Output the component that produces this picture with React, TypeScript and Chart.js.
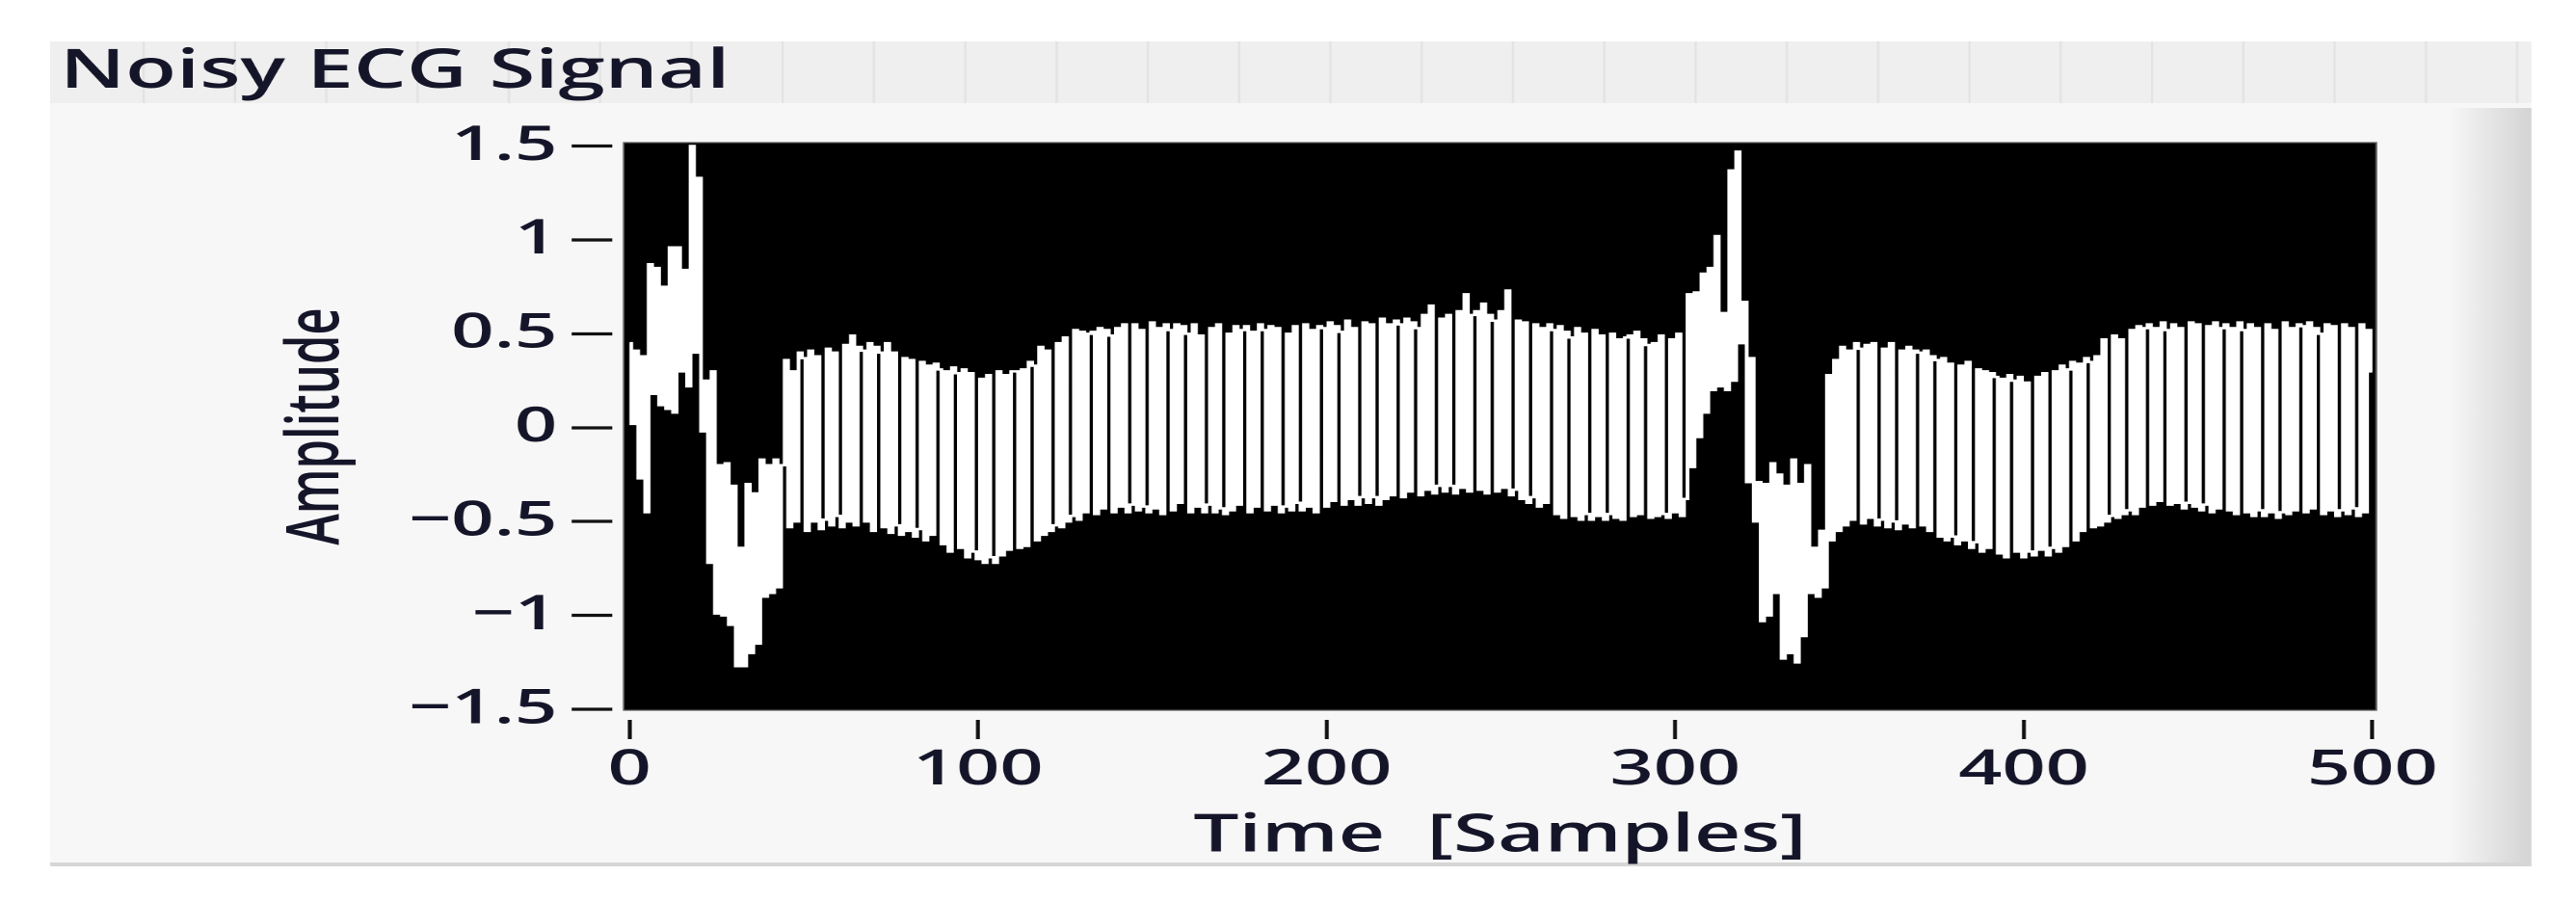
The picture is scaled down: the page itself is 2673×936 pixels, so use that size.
import React, { useEffect, useRef } from "react";
import { Chart, registerables } from "chart.js";

Chart.register(...registerables);

// ---------- data ----------
const chartTitle = "Noisy ECG Signal";
const xAxisTitle = "Time  [Samples]";
const yAxisTitle = "Amplitude";
const xTicks = [0, 100, 200, 300, 400, 500];
const yTicks = [-1.5, -1, -0.5, 0, 0.5, 1, 1.5];
const yTickLabels = ["\u22121.5", "\u22121", "\u22120.5", "0", "0.5", "1", "1.5"];

// amplitude at sample index 0..500
const amplitude = [
  0.45, 0.02, 0.41, -0.27, 0.38, -0.45, 0.87, 0.18, 0.85, 0.12,
  0.75, 0.10, 0.96, 0.08, 0.96, 0.30, 0.84, 0.22, 1.50, 0.40,
  1.33, -0.02, 0.25, -0.72, 0.30, -0.99, -0.20, -1.00, -0.19, -1.05,
  -0.31, -1.27, -0.64, -1.27, -0.30, -1.20, -0.35, -1.15, -0.17, -0.90,
  -0.20, -0.88, -0.17, -0.85, -0.20, 0.36, -0.53, 0.30, -0.50, 0.40,
  0.37, -0.55, 0.41, -0.50, 0.38, -0.54, -0.49, 0.42, -0.52, 0.40,
  -0.47, -0.53, 0.44, -0.50, 0.49, -0.52, 0.43, 0.41, -0.50, 0.45,
  -0.55, 0.43, 0.40, -0.53, 0.45, -0.56, 0.40, -0.52, -0.57, 0.37,
  -0.55, 0.36, -0.58, -0.54, 0.35, -0.60, 0.33, -0.57, 0.34, 0.31,
  -0.62, 0.30, -0.66, 0.32, 0.29, -0.64, 0.31, -0.69, 0.29, -0.66,
  -0.70, 0.26, -0.72, 0.28, -0.69, -0.72, 0.30, -0.68, 0.28, -0.65,
  0.30, 0.30, -0.64, 0.31, -0.63, 0.35, 0.33, -0.60, 0.43, -0.57,
  0.41, -0.55, -0.52, 0.45, -0.53, 0.48, -0.50, -0.47, 0.52, -0.49,
  0.51, -0.45, 0.50, 0.51, -0.46, 0.53, -0.43, 0.52, 0.49, -0.45,
  0.53, -0.42, 0.55, -0.45, -0.41, 0.55, -0.44, 0.52, -0.42, -0.45,
  0.56, -0.43, 0.53, -0.46, 0.55, 0.52, -0.44, 0.55, -0.40, 0.54,
  0.50, -0.45, 0.55, -0.42, 0.49, -0.45, -0.41, 0.53, -0.45, 0.55,
  -0.43, -0.46, 0.50, -0.44, 0.54, -0.41, 0.52, 0.54, -0.45, 0.51,
  -0.42, 0.55, 0.52, -0.44, 0.54, -0.41, 0.53, -0.45, -0.42, 0.50,
  -0.44, 0.54, -0.40, -0.44, 0.55, -0.42, 0.52, -0.45, 0.54, 0.53,
  -0.42, 0.56, -0.39, 0.54, 0.51, -0.41, 0.57, -0.38, 0.53, -0.41,
  -0.37, 0.56, -0.40, 0.55, -0.37, -0.41, 0.58, -0.38, 0.55, -0.36,
  0.57, 0.55, -0.37, 0.58, -0.34, 0.56, 0.53, -0.36, 0.60, -0.33,
  0.65, -0.35, -0.31, 0.58, -0.34, 0.60, -0.31, -0.35, 0.62, -0.32,
  0.71, -0.34, 0.60, 0.62, -0.33, 0.66, -0.35, 0.60, 0.57, -0.34,
  0.62, -0.32, 0.73, -0.36, -0.33, 0.57, -0.38, 0.56, -0.40, -0.37,
  0.55, -0.42, 0.53, -0.40, 0.55, 0.52, -0.46, 0.54, -0.48, 0.51,
  0.48, -0.47, 0.53, -0.49, 0.50, -0.46, -0.49, 0.52, -0.47, 0.49,
  -0.49, -0.46, 0.50, -0.48, 0.47, -0.49, 0.48, 0.49, -0.47, 0.51,
  -0.46, 0.47, 0.44, -0.48, 0.45, -0.47, 0.49, -0.46, -0.48, 0.47,
  -0.45, 0.50, -0.47, -0.38, 0.71, -0.21, 0.72, -0.05, 0.82, 0.08,
  0.85, 0.20, 1.02, 0.22, 0.61, 0.20, 1.37, 0.25, 1.47, 0.45,
  0.67, -0.29, 0.37, -0.50, -0.29, -1.03, -0.30, -1.00, -0.19, -0.88,
  -0.25, -1.23, -0.31, -1.20, -0.17, -1.25, -0.30, -1.11, -0.20, -0.88,
  -0.64, -0.90, -0.55, -0.85, 0.28, -0.60, 0.36, -0.55, 0.43, -0.52,
  0.41, -0.49, 0.45, 0.42, -0.51, 0.44, -0.48, 0.45, -0.52, -0.49,
  0.42, -0.53, 0.45, -0.50, -0.54, 0.41, -0.51, 0.43, -0.53, 0.41,
  0.40, -0.52, 0.41, -0.55, 0.38, 0.36, -0.58, 0.37, -0.60, 0.34,
  -0.58, -0.62, 0.33, -0.60, 0.35, -0.64, -0.61, 0.31, -0.66, 0.30,
  -0.64, 0.29, 0.27, -0.67, 0.26, -0.69, 0.28, 0.25, -0.66, 0.27,
  -0.69, 0.24, -0.66, -0.68, 0.27, -0.65, 0.29, -0.68, -0.64, 0.30,
  -0.66, 0.33, -0.63, 0.31, 0.35, -0.60, 0.34, -0.55, 0.37, 0.35,
  -0.53, 0.38, -0.52, 0.47, -0.50, -0.47, 0.49, -0.48, 0.47, -0.46,
  -0.44, 0.52, -0.46, 0.54, -0.42, 0.53, 0.55, -0.41, 0.53, -0.39,
  0.56, 0.52, -0.41, 0.55, -0.40, 0.53, -0.43, -0.40, 0.56, -0.42,
  0.55, -0.44, -0.41, 0.54, -0.45, 0.56, -0.43, 0.53, 0.55, -0.44,
  0.53, -0.46, 0.56, 0.52, -0.45, 0.55, -0.47, 0.53, -0.44, -0.47,
  0.55, -0.45, 0.52, -0.48, -0.45, 0.56, -0.46, 0.53, -0.44, 0.55,
  0.54, -0.45, 0.56, -0.43, 0.53, 0.50, -0.46, 0.55, -0.44, 0.54,
  -0.47, -0.44, 0.55, -0.46, 0.53, -0.43, -0.47, 0.55, -0.45, 0.52,
  0.30,
];

// ---------- layout (picture pixels) ----------
const W = 2673;
const H = 936;
const K = 1.55; // the picture is stretched horizontally
const W0 = W / K;
const sx = (x: number) => x / K;

const PLOT_LEFT = 647;
const PLOT_RIGHT = 2465;
const PLOT_TOP = 148;
const PLOT_BOTTOM = 737;

const FONT = '"Open Sans", "Noto Sans", sans-serif';
const TEXT_COLOR = "#15152a";
const WEIGHT = "600";

const panelPlugin = {
  id: "panelPlugin",
  beforeDraw(chart: any) {
    const ctx = chart.ctx as CanvasRenderingContext2D;
    ctx.save();
    ctx.fillStyle = "#ffffff";
    ctx.fillRect(0, 0, W0, H);
    // panel body
    ctx.fillStyle = "#f7f7f7";
    ctx.fillRect(sx(52), 107, sx(2626) - sx(52), 898 - 107);
    // right shading
    const g = ctx.createLinearGradient(sx(2540), 0, sx(2626), 0);
    g.addColorStop(0, "rgba(247,247,247,1)");
    g.addColorStop(1, "rgba(212,212,212,1)");
    ctx.fillStyle = g;
    ctx.fillRect(sx(2540), 112, sx(2626) - sx(2540), 898 - 112);
    // bottom edge
    ctx.fillStyle = "#d6d6d6";
    ctx.fillRect(sx(52), 895, sx(2626) - sx(52), 4);
    // header bar
    ctx.fillStyle = "#efefef";
    ctx.fillRect(sx(52), 43, sx(2626) - sx(52), 64);
    ctx.strokeStyle = "#e3e3e3";
    ctx.lineWidth = 1.5;
    for (let x = 149; x < 2626; x += 94.7) {
      ctx.beginPath();
      ctx.moveTo(sx(x), 43);
      ctx.lineTo(sx(x), 107);
      ctx.stroke();
    }
    // title
    ctx.fillStyle = TEXT_COLOR;
    ctx.font = `${WEIGHT} 56px ${FONT}`;
    ctx.textBaseline = "alphabetic";
    ctx.textAlign = "left";
    ctx.fillText(chartTitle, sx(62), 91);
    // plot background
    const a = chart.chartArea;
    ctx.fillStyle = "#000000";
    ctx.fillRect(a.left, a.top, a.right - a.left, a.bottom - a.top);
    ctx.restore();
  },
  afterDraw(chart: any) {
    const ctx = chart.ctx as CanvasRenderingContext2D;
    const a = chart.chartArea;
    ctx.save();
    ctx.strokeStyle = "#5a5a5a";
    ctx.lineWidth = 1.2;
    ctx.strokeRect(a.left, a.top, a.right - a.left, a.bottom - a.top);
    ctx.restore();
  },
};

export default function App() {
  const ref = useRef<HTMLCanvasElement>(null);

  useEffect(() => {
    const canvas = ref.current;
    if (!canvas) return;
    const points = amplitude.map((y, i) => ({ x: i, y }));
    const chart = new Chart(canvas, {
      type: "line",
      data: {
        datasets: [
          {
            data: points,
            borderColor: "#ffffff",
            borderWidth: 2.5,
            pointRadius: 0,
            stepped: "middle",
            fill: false,
            tension: 0,
          },
        ],
      },
      options: {
        animation: false,
        responsive: true,
        maintainAspectRatio: false,
        devicePixelRatio: 2,
        layout: {
          padding: { left: 0, right: W0 - sx(PLOT_RIGHT), top: PLOT_TOP, bottom: 0 },
        },
        plugins: {
          legend: { display: false },
          tooltip: { enabled: false },
          title: { display: false },
        },
        scales: {
          x: {
            type: "linear",
            min: -1.66,
            max: 501.1,
            afterBuildTicks: (s: any) => {
              s.ticks = xTicks.map((v) => ({ value: v }));
            },
            afterFit: (s: any) => {
              s.height = H - PLOT_BOTTOM;
            },
            ticks: {
              autoSkip: false,
              maxRotation: 0,
              padding: 2,
              color: TEXT_COLOR,
              font: { family: FONT, size: 51, weight: WEIGHT },
              callback: (v: any) => String(v),
            },
            grid: {
              display: true,
              drawOnChartArea: false,
              drawTicks: true,
              tickLength: 30,
              tickColor: "#111111",
              tickWidth: 2.6,
              tickBorderDash: [0, 10, 20, 60],
            },
            border: { display: false },
            title: {
              display: true,
              text: xAxisTitle,
              color: TEXT_COLOR,
              font: { family: FONT, size: 54, weight: WEIGHT },
              padding: { top: 0, bottom: 35.6 },
            },
          },
          y: {
            type: "linear",
            min: -1.505,
            max: 1.518,
            afterBuildTicks: (s: any) => {
              s.ticks = yTicks.map((v) => ({ value: v }));
            },
            afterFit: (s: any) => {
              s.width = sx(PLOT_LEFT);
            },
            ticks: {
              padding: 9.7,
              color: TEXT_COLOR,
              font: { family: FONT, size: 50, weight: WEIGHT },
              callback: (v: any) => {
                const i = yTicks.findIndex((t) => Math.abs(t - Number(v)) < 1e-9);
                return i >= 0 ? yTickLabels[i] : "";
              },
            },
            grid: {
              display: true,
              drawOnChartArea: false,
              drawTicks: true,
              tickLength: 34.8,
              tickColor: "#111111",
              tickWidth: 3.2,
              tickBorderDash: [27.1, 60],
            },
            border: { display: false },
            title: {
              display: true,
              text: yAxisTitle,
              color: TEXT_COLOR,
              font: { family: FONT, size: 49, weight: WEIGHT },
              padding: { top: 182.9, bottom: 0 },
            },
          },
        },
      },
      plugins: [panelPlugin],
    });
    return () => chart.destroy();
  }, []);

  return (
    <div
      style={{
        position: "fixed",
        left: 0,
        top: 0,
        width: W,
        height: H,
        overflow: "hidden",
        background: "#ffffff",
      }}
    >
      <div
        style={{
          width: W0,
          height: H,
          transform: `scaleX(${K})`,
          transformOrigin: "0 0",
        }}
      >
        <canvas ref={ref} />
      </div>
    </div>
  );
}
